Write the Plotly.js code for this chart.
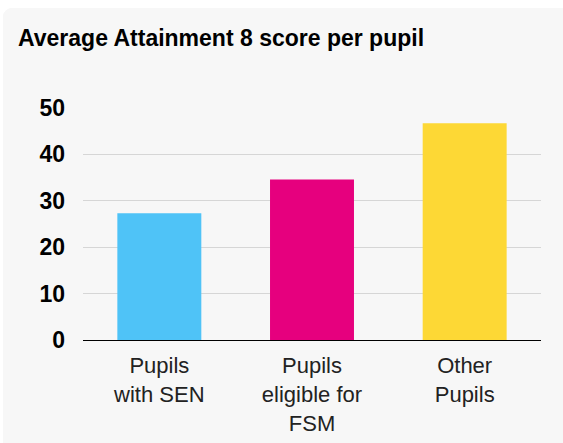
<!DOCTYPE html>
<html>
<head>
<meta charset="utf-8">
<script src="https://cdn.plot.ly/plotly-3.0.1.min.js"></script>
<style>
  html, body { margin: 0; padding: 0; background: #ffffff; }
  #card { position: absolute; left: 3px; top: 8px; width: 560px; height: 435px;
          background: #f7f7f7; border-radius: 9px 0 0 0; overflow: hidden; }
  #chart { width: 560px; height: 435px; }
</style>
</head>
<body>
<div id="card"><div id="chart"></div></div>
<script>
const categories = ["Pupils<br>with SEN", "Pupils<br>eligible for<br>FSM", "Other<br>Pupils"];
const scores = [27.3, 34.6, 46.7];
const barColors = ["#4fc3f7", "#e6007e", "#fdd835"];
const yTicks = [0, 10, 20, 30, 40, 50];
const chartTitle = "Average Attainment 8 score per pupil";

const font = "Liberation Sans, Arial, Helvetica, sans-serif";

Plotly.newPlot("chart", [{
  type: "bar",
  x: categories,
  y: scores,
  marker: { color: barColors },
  hoverinfo: "skip"
}], {
  width: 560, height: 435,
  paper_bgcolor: "#f7f7f7",
  plot_bgcolor: "#f7f7f7",
  margin: { l: 80, r: 22, t: 100, b: 103 },
  bargap: 0.45,
  showlegend: false,
  title: {
    text: "<b>" + chartTitle + "</b>",
    font: { family: font, size: 23, color: "#000000" },
    xref: "container", x: 15 / 560, xanchor: "left",
    yref: "container", y: 1 - 30 / 435, yanchor: "middle"
  },
  xaxis: {
    showline: true, linecolor: "#000000", linewidth: 1,
    showgrid: false, ticks: "",
    tickfont: { family: font, size: 22, color: "#222222" },
    ticklabelstandoff: 6,
    fixedrange: true
  },
  yaxis: {
    range: [0, 50],
    tickvals: yTicks,
    ticktext: yTicks.map(v => "<b>" + v + "</b>"),
    showgrid: true, gridcolor: "#d6d6d6", gridwidth: 1,
    zeroline: false, showline: false, ticks: "",
    tickfont: { family: font, size: 23, color: "#000000" },
    ticklabelstandoff: 17,
    fixedrange: true
  }
}, { displayModeBar: false, staticPlot: true });
</script>
</body>
</html>
